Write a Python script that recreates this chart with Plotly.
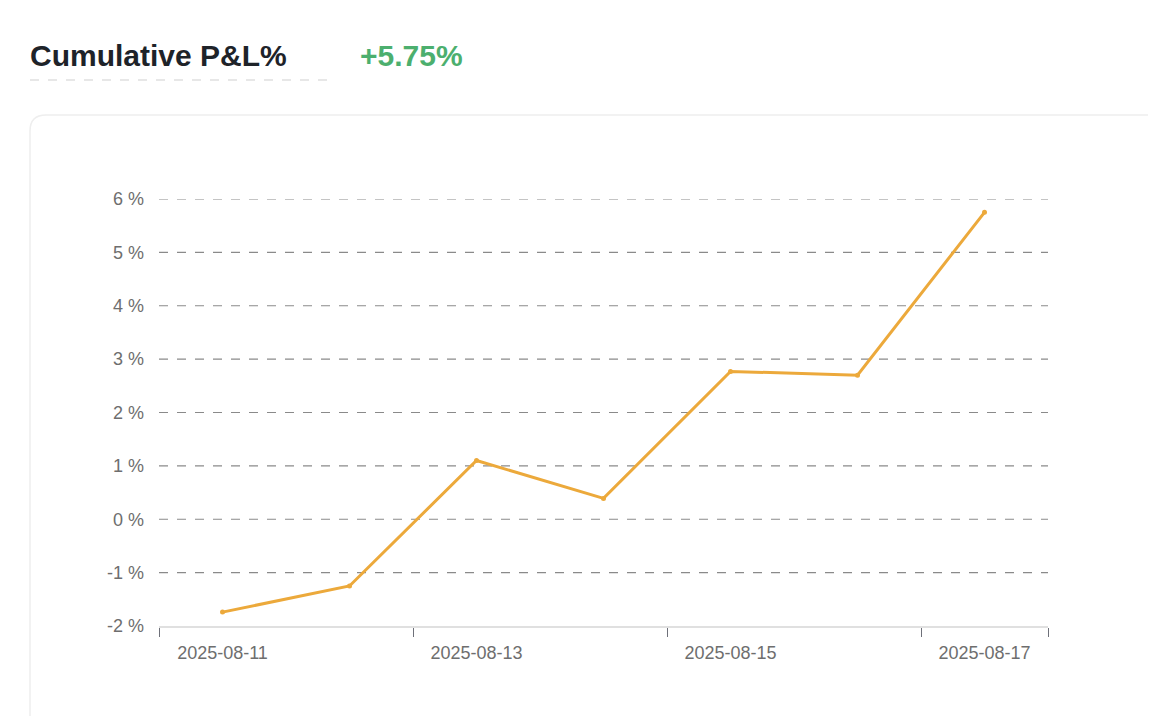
import plotly.graph_objects as go

dates = ["2025-08-11","2025-08-12","2025-08-13","2025-08-14","2025-08-15","2025-08-16","2025-08-17"]
pnl = [-1.74, -1.25, 1.10, 0.39, 2.77, 2.70, 5.75]
yticks = [-2, -1, 0, 1, 2, 3, 4, 5, 6]

W, H = 1156, 716
OFF = 8  # page body margin
L, R, T, B = 159 - OFF, 1048 - OFF, 199 - OFF, 626 - OFF
def px(x): return (x - OFF - L) / (R - L)
def py(y): return (B - (y - OFF)) / (B - T)

xs = list(range(len(dates)))
fig = go.Figure()
fig.add_trace(go.Scatter(x=xs, y=pnl, mode="lines+markers",
                         line=dict(color="#ECA93B", width=3),
                         marker=dict(size=5, color="#ECA93B"), hoverinfo="skip"))
fig.add_trace(go.Scatter(x=[-0.5], y=[0], xaxis="x2", mode="markers",
                         marker=dict(opacity=0), hoverinfo="skip"))

fig.update_layout(
    width=W, height=H, margin=dict(l=L, r=W - R, t=T, b=H - B),
    paper_bgcolor="white", plot_bgcolor="white", showlegend=False,
    font=dict(family="Liberation Sans, Arial, sans-serif"),
    xaxis=dict(range=[-0.5, 6.5], tickvals=xs[::2], ticktext=dates[::2],
               showgrid=False, zeroline=False, showline=False, ticks="",
               ticklabelstandoff=14, tickfont=dict(size=18, color="#6e6e6e")),
    xaxis2=dict(overlaying="x", range=[-0.5, 6.5], tickvals=[-0.5, 1.5, 3.5, 5.5, 6.5],
                showticklabels=False, ticks="outside", ticklen=9, tickcolor="#6e7079",
                showline=True, linecolor="#e0e0e0", linewidth=1.5, showgrid=False,
                zeroline=False, side="bottom", anchor="y"),
    yaxis=dict(range=[-2, 6], tickvals=yticks, ticktext=[f"{v} %" for v in yticks],
               showgrid=False, zeroline=False, showline=False, ticks="",
               ticklabelstandoff=14, tickfont=dict(size=18, color="#6e6e6e")),
)
for v in yticks[1:]:
    fig.add_shape(type="line", xref="paper", yref="y", x0=0, x1=1, y0=v, y1=v,
                  line=dict(color="#8a8a8a", width=1.2, dash="dash"), layer="below")

x0, y0 = px(30), py(115)
r = 16
fig.add_shape(type="path", xref="paper", yref="paper",
              path=f"M {x0},{py(740)} L {x0},{py(115+r)} Q {x0},{y0} {px(30+r)},{y0} L {px(1180)},{y0}",
              line=dict(color="#eeeeee", width=1.5), layer="below")
fig.add_annotation(x=px(28), y=py(55), xref="paper", yref="paper", xanchor="left", yanchor="middle",
                   text="<b>Cumulative P&L%</b>", showarrow=False, font=dict(size=30, color="#1e2329"))
fig.add_annotation(x=px(358), y=py(55), xref="paper", yref="paper", xanchor="left", yanchor="middle",
                   text="<b>+5.75%</b>", showarrow=False, font=dict(size=30, color="#4CAF6E"))
fig.add_shape(type="line", xref="paper", yref="paper", x0=px(30), x1=px(328), y0=py(80), y1=py(80),
              line=dict(color="#cfcfcf", width=1.2, dash="dash"))

fig.write_html("out.html")
